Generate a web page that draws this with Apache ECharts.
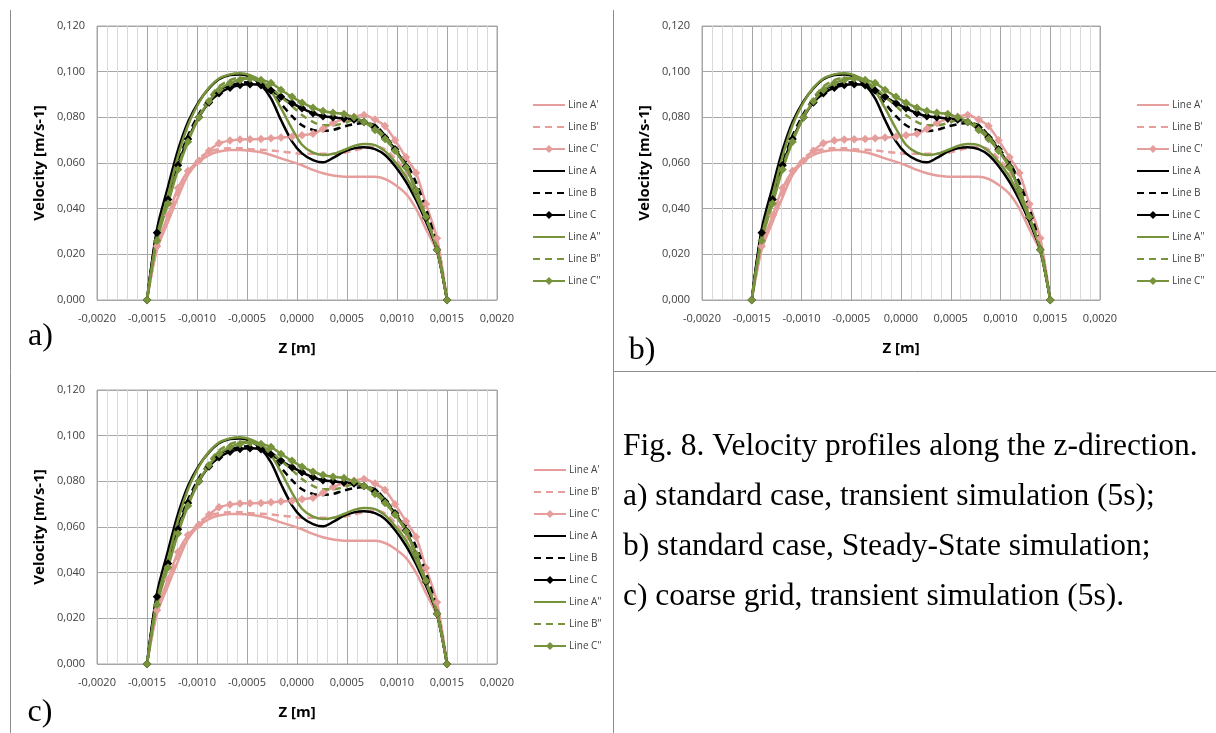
<!DOCTYPE html>
<html>
<head>
<meta charset="utf-8">
<script src="https://cdn.jsdelivr.net/npm/echarts@6/dist/echarts.min.js"></script>
<style>
html,body{margin:0;padding:0;background:#fff;}
#chart{width:1216px;height:733px;}
</style>
</head>
<body>
<div id="chart"></div>
<script>
// z positions [m]
const zPos = [-0.0015,-0.0014,-0.00129,-0.00119,-0.00109,-0.00098,-0.00088,-0.00078,-0.00067,-0.00057,
  -0.00047,-0.00036,-0.00026,-0.00016,-0.00005,0.00005,0.00016,0.00026,0.00036,0.00047,
  0.00057,0.00067,0.00078,0.00088,0.00098,0.00109,0.00119,0.00129,0.0014,0.0015];

const seriesNames = ["Line A'","Line B'","Line C'","Line A","Line B","Line C",'Line A"','Line B"','Line C"'];

const lineA1 = [0,0.022,0.0343,0.045,0.0548,0.0606,0.0635,0.065,0.0657,0.0657,0.0654,0.0647,0.0635,0.062,0.0605,0.059,0.057,0.0555,0.0545,0.054,0.054,0.054,0.054,0.053,0.0505,0.0465,0.040,0.031,0.021,0];
const lineB1 = [0,0.023,0.036,0.047,0.056,0.062,0.065,0.066,0.0665,0.0665,0.066,0.0658,0.0655,0.065,0.0645,0.064,0.064,0.064,0.064,0.0645,0.0655,0.0665,0.067,0.066,0.062,0.056,0.048,0.038,0.025,0];
const lineC1 = [0,0.0235,0.037,0.049,0.0565,0.061,0.0654,0.0686,0.0698,0.0703,0.0704,0.0705,0.0708,0.0712,0.0715,0.0722,0.0728,0.075,0.0775,0.0792,0.0803,0.081,0.079,0.0762,0.070,0.0625,0.0556,0.042,0.027,0];
const lineA  = [0,0.031,0.0496,0.0657,0.078,0.087,0.0927,0.0967,0.0985,0.0988,0.0978,0.0942,0.0883,0.0788,0.0695,0.0642,0.0613,0.0603,0.0622,0.065,0.0664,0.0669,0.0661,0.0635,0.0587,0.0518,0.0438,0.0343,0.0219,0];
const lineB  = [0,0.0285,0.045,0.060,0.072,0.0815,0.088,0.092,0.094,0.095,0.0955,0.094,0.091,0.086,0.0805,0.0765,0.0745,0.074,0.0745,0.076,0.077,0.0775,0.0765,0.072,0.0665,0.0605,0.0515,0.040,0.0235,0];
const lineC  = [0,0.0295,0.044,0.059,0.0705,0.080,0.0865,0.0905,0.093,0.0942,0.0945,0.094,0.0918,0.089,0.0862,0.084,0.0818,0.0805,0.080,0.0795,0.079,0.078,0.0755,0.0712,0.066,0.0585,0.048,0.036,0.022,0];
const lineA2 = [0,0.028,0.046,0.063,0.0765,0.0865,0.093,0.097,0.0988,0.0993,0.0985,0.096,0.0915,0.084,0.075,0.068,0.0645,0.0635,0.064,0.0657,0.0675,0.0683,0.0678,0.0652,0.0605,0.054,0.0455,0.0355,0.023,0];
const lineB2 = [0,0.027,0.043,0.058,0.0705,0.0805,0.0885,0.0935,0.0963,0.0973,0.097,0.0955,0.093,0.089,0.085,0.081,0.078,0.0765,0.0765,0.0775,0.0788,0.0785,0.0758,0.0715,0.066,0.0585,0.0485,0.0365,0.0225,0];
const lineC2 = [0,0.026,0.0423,0.0572,0.0693,0.080,0.087,0.092,0.095,0.0964,0.097,0.0964,0.095,0.092,0.089,0.0864,0.0842,0.0828,0.082,0.0815,0.080,0.078,0.0745,0.0705,0.0654,0.058,0.048,0.0365,0.022,0];

const xTicks = ['-0,0020','-0,0015','-0,0010','-0,0005','0,0000','0,0005','0,0010','0,0015','0,0020'];
const yTicks = ['0,000','0,020','0,040','0,060','0,080','0,100','0,120'];

const panelLabels = ['a)','b)','c)'];
const captionLines = [
  'Fig. 8. Velocity profiles along the z-direction.',
  'a) standard case, transient simulation (5s);',
  'b) standard case, Steady-State simulation;',
  'c) coarse grid, transient simulation (5s).'
];

const values = [lineA1,lineB1,lineC1,lineA,lineB,lineC,lineA2,lineB2,lineC2];
const PINK = '#E59E9B', BLACK = '#000000', GREEN = '#77933C';
const styles = [
  {c:PINK, t:'solid', m:false},{c:PINK, t:[7,5], m:false},{c:PINK, t:'solid', m:true},
  {c:BLACK,t:'solid', m:false},{c:BLACK,t:[7,5], m:false},{c:BLACK,t:'solid', m:true},
  {c:GREEN,t:'solid', m:false},{c:GREEN,t:[7,5], m:false},{c:GREEN,t:'solid', m:true}
];

const panels = [
  {left:97, top:26, width:400, height:274, legLeft:527, legTop:95, lab:[40.5,337]},
  {left:702, top:26, width:398, height:274, legLeft:1131, legTop:95, lab:[642,351]},
  {left:97, top:390, width:400, height:274, legLeft:528, legTop:460, lab:[40,713]}
];

const labelFont = 'Open Sans';
function fmtX(v){ const i = Math.round((v+0.002)/0.0005); return xTicks[i] !== undefined ? xTicks[i] : ''; }
function fmtY(v){ const i = Math.round(v/0.02); return yTicks[i] !== undefined ? yTicks[i] : ''; }

const legendData = seriesNames.map((nm, i) => styles[i].m ? nm : {name:nm, itemStyle:{opacity:0}});

const grid = [], xAxis = [], yAxis = [], series = [], legend = [];
panels.forEach((p, pi) => {
  grid.push({left:p.left, top:p.top, width:p.width, height:p.height, show:true, borderColor:'#a6a6a6', borderWidth:1});
  xAxis.push({
    type:'value', gridIndex:pi, min:-0.002, max:0.002, interval:0.0005,
    axisLine:{show:false}, axisTick:{show:false},
    axisLabel:{formatter:fmtX, color:'#404040', fontFamily:labelFont, fontSize:11, margin:13},
    splitLine:{show:true, lineStyle:{color:'#a6a6a6', width:1}},
    minorTick:{show:false, splitNumber:5},
    minorSplitLine:{show:true, lineStyle:{color:'#d9d9d9', width:1}},
    name:'Z [m]', nameLocation:'middle', nameGap:41,
    nameTextStyle:{fontFamily:labelFont, fontWeight:'bold', fontSize:15, color:'#000'}
  });
  yAxis.push({
    type:'value', gridIndex:pi, min:0, max:0.12, interval:0.02,
    axisLine:{show:false}, axisTick:{show:false},
    axisLabel:{formatter:fmtY, color:'#404040', fontFamily:labelFont, fontSize:11, margin:12},
    splitLine:{show:true, lineStyle:{color:'#a6a6a6', width:1}},
    name:'Velocity [m/s-1]', nameLocation:'middle', nameGap:50,
    nameTextStyle:{fontFamily:labelFont, fontWeight:'bold', fontSize:15, color:'#000'}
  });
  legend.push({
    orient:'vertical', left:p.legLeft, top:p.legTop, itemWidth:32, itemHeight:10, itemGap:12,
    data:legendData, selectedMode:false,
    textStyle:{fontFamily:labelFont, fontSize:10, color:'#404040', padding:[0,0,0,-2]}
  });
  seriesNames.forEach((nm, si) => {
    const st = styles[si];
    series.push({
      type:'line', name:nm, xAxisIndex:pi, yAxisIndex:pi,
      data: zPos.map((z, k) => [z, values[si][k]]),
      smooth:0.3,
      symbol: st.m ? 'diamond' : 'none', symbolSize:8.5, showSymbol: st.m,
      lineStyle:{color:st.c, width:2.5, type:st.t},
      itemStyle:{color:st.c, borderWidth:0},
      emphasis:{disabled:true}, z: 2
    });
  });
});

const graphic = [];
const sep = {stroke:'#8c8c8c', lineWidth:1};
graphic.push({type:'line', shape:{x1:10.5,y1:10,x2:10.5,y2:733}, style:sep, silent:true});
graphic.push({type:'line', shape:{x1:613.5,y1:10,x2:613.5,y2:733}, style:sep, silent:true});
graphic.push({type:'line', shape:{x1:613,y1:371.5,x2:1216,y2:371.5}, style:sep, silent:true});
panels.forEach((p, pi) => {
  graphic.push({type:'text', x:p.lab[0], y:p.lab[1], silent:true,
    style:{text:panelLabels[pi], font:'32px "Liberation Serif"', fill:'#000',
      textAlign:'center', textVerticalAlign:'middle', align:'center', verticalAlign:'middle'}});
});
const capY = [447, 497, 547, 597];
captionLines.forEach((t, i) => {
  graphic.push({type:'text', x:623, y:capY[i], silent:true,
    style:{text:t, font:'31.5px "Liberation Serif"', fill:'#000',
      textAlign:'left', textVerticalAlign:'middle', align:'left', verticalAlign:'middle'}});
});

const chart = echarts.init(document.getElementById('chart'), null, {renderer:'canvas'});
chart.setOption({
  animation:false,
  backgroundColor:'#fff',
  grid, xAxis, yAxis, series, legend, graphic
});
</script>
</body>
</html>
